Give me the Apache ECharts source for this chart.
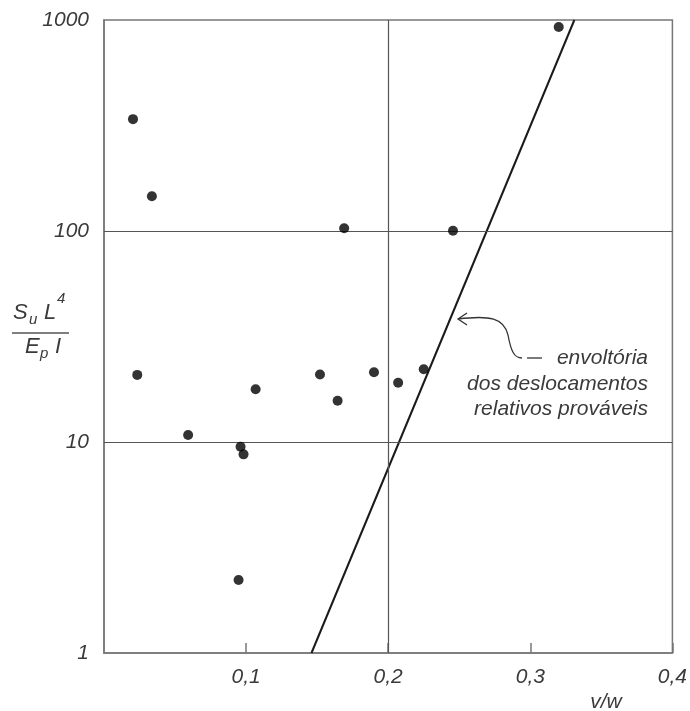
<!DOCTYPE html>
<html>
<head>
<meta charset="utf-8">
<script src="https://cdn.jsdelivr.net/npm/echarts@6/dist/echarts.min.js"></script>
<style>
    html,body{margin:0;padding:0;background:#fff;}
    #chart{width:690px;height:711px;}
</style>
</head>
<body>
<div id="chart"></div>
<script>
    // pontos medidos (v/w , SuL4/EpI)
    var pontosX = [0.0204, 0.0337, 0.0234, 0.0592, 0.0961, 0.0982, 0.0947, 0.1067, 0.169, 0.152, 0.1644, 0.190, 0.207, 0.225, 0.2456, 0.320];
    var pontosY = [339, 146, 20.8, 10.8, 9.5, 8.74, 2.22, 17.8, 103, 20.9, 15.7, 21.4, 19.1, 22.1, 100.3, 926];
    // envoltória
    var envX = [0.146, 0.331];
    var envY = [1, 1000];
    var gradeX = [0.2];
    var gradeY = [10, 100];

    var fonte = '"Liberation Sans", Arial, sans-serif';
    var cor = '#3a3a3a';

    var pontos = pontosX.map(function (x, i) { return [x, pontosY[i]]; });
    var envoltoria = envX.map(function (x, i) { return [x, envY[i]]; });
    var grade = [];
    gradeX.forEach(function (v) { grade.push({xAxis: v}); });
    gradeY.forEach(function (v) { grade.push({yAxis: v}); });

    function txt(x, y, s, size, align) {
        return {
            type: 'text', x: x, y: y, silent: true,
            style: {text: s, fill: cor, font: 'italic ' + size + 'px ' + fonte,
                    align: align || 'left', verticalAlign: 'middle'}
        };
    }
    var traco = {stroke: '#333', lineWidth: 1.3, fill: null};

    var chart = echarts.init(document.getElementById('chart'));
    chart.setOption({
        animation: false,
        backgroundColor: '#fff',
        grid: {left: 104, top: 20, right: 17, bottom: 58, show: true,
               borderColor: '#777', borderWidth: 1.5},
        xAxis: {
            type: 'value', min: 0, max: 0.4, interval: 0.1,
            axisLine: {show: true, lineStyle: {color: '#777', width: 1.5}},
            axisTick: {show: true, inside: true, length: 10, lineStyle: {color: '#777', width: 1.5}},
            splitLine: {show: false},
            axisLabel: {
                showMinLabel: false, margin: 14, color: cor,
                fontFamily: fonte, fontStyle: 'italic', fontSize: 21,
                formatter: function (v) { return v === 0 ? '' : v.toFixed(1).replace('.', ','); }
            }
        },
        yAxis: {
            type: 'log', logBase: 10, min: 1, max: 1000,
            axisLine: {show: true, lineStyle: {color: '#777', width: 1.5}},
            axisTick: {show: false},
            splitLine: {show: false},
            minorTick: {show: false},
            axisLabel: {
                margin: 15, color: cor,
                fontFamily: fonte, fontStyle: 'italic', fontSize: 21,
                formatter: function (v) { return String(Math.round(v)); }
            }
        },
        series: [
            {
                type: 'scatter', data: pontos, symbolSize: 10,
                itemStyle: {color: '#000'}, z: 5,
                markLine: {
                    silent: true, symbol: 'none', label: {show: false},
                    lineStyle: {color: '#555', width: 1.2, type: 'solid'},
                    data: grade
                }
            },
            {
                type: 'line', data: envoltoria, symbol: 'none',
                lineStyle: {color: '#1a1a1a', width: 2}, z: 4
            }
        ],
        graphic: [
            // rótulo do eixo y
            txt(13, 313, 'S', 22), txt(29, 320, 'u', 15),
            txt(44, 313, 'L', 22), txt(57, 299, '4', 15),
            {type: 'line', silent: true, shape: {x1: 12, y1: 333, x2: 69, y2: 333},
             style: {stroke: '#555', lineWidth: 1.5}},
            txt(25, 347, 'E', 22), txt(40, 354, 'p', 15), txt(55, 347, 'I', 22),
            // rótulo do eixo x
            txt(606, 702, 'v/w', 21, 'center'),
            // anotação
            {type: 'bezierCurve', silent: true,
             shape: {x1: 458, y1: 319, cpx1: 490, cpy1: 315, cpx2: 504, cpy2: 318, x2: 508, y2: 335},
             style: traco},
            {type: 'bezierCurve', silent: true,
             shape: {x1: 508, y1: 335, cpx1: 511, cpy1: 351, cpx2: 514, cpy2: 358, x2: 522, y2: 358},
             style: traco},
            {type: 'polyline', silent: true,
             shape: {points: [[467, 313], [458, 319], [467, 325]]},
             style: traco},
            {type: 'line', silent: true, shape: {x1: 527, y1: 358, x2: 542, y2: 358},
             style: traco},
            txt(648, 358, 'envoltória', 21, 'right'),
            txt(648, 384, 'dos deslocamentos', 21, 'right'),
            txt(648, 409, 'relativos prováveis', 21, 'right')
        ]
    });
</script>
</body>
</html>
